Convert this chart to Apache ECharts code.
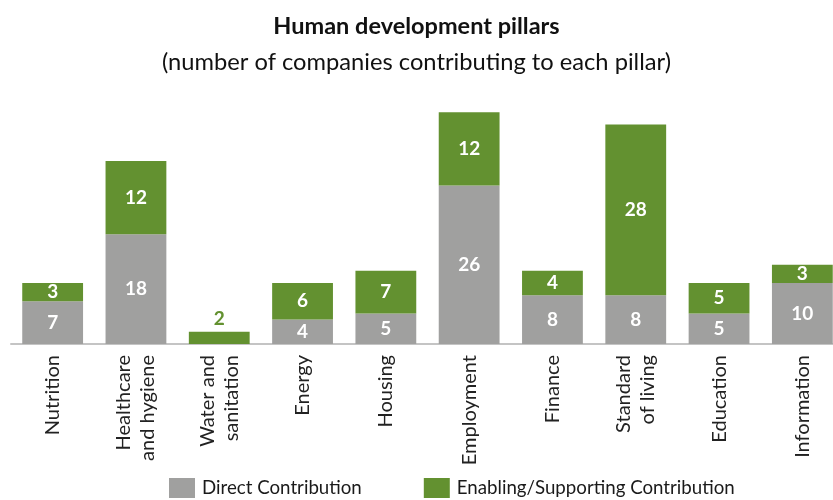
<!DOCTYPE html>
<html>
<head>
<meta charset="utf-8">
<script src="https://cdn.jsdelivr.net/npm/echarts@6/dist/echarts.min.js"></script>
<style>
  html, body { margin: 0; padding: 0; background: #ffffff; }
  #chart { width: 833px; height: 500px; }
</style>
</head>
<body>
<div id="chart"></div>
<script>
// Human development pillars: companies contributing to each pillar
const pillars = [
  'Nutrition', 'Healthcare\nand hygiene', 'Water and\nsanitation', 'Energy', 'Housing',
  'Employment', 'Finance', 'Standard\nof living', 'Education', 'Information'
];
const directContribution = [7, 18, 0, 4, 5, 26, 8, 8, 5, 10];
const enablingContribution = [3, 12, 2, 6, 7, 12, 4, 28, 5, 3];

const GREY = '#a0a09f';
const GREEN = '#639130';
const FONT = 'Lato, "Noto Sans", sans-serif';

// When a pillar has no direct contribution, its enabling label sits above the bar in green.
const enablingData = enablingContribution.map((v, i) => {
  if (directContribution[i] === 0) {
    return { value: v, label: { position: 'top', color: GREEN, distance: 3 } };
  }
  return v;
});

const chart = echarts.init(document.getElementById('chart'), null, { renderer: 'canvas' });
chart.setOption({
  animation: false,
  textStyle: { fontFamily: FONT },
  title: [
    {
      text: 'Human development pillars',
      left: 'center', top: 9,
      textStyle: { fontFamily: FONT, fontSize: 23.5, fontWeight: 'bold', color: '#111111' }
    },
    {
      text: '(number of companies contributing to each pillar)',
      left: 'center', top: 45,
      textStyle: { fontFamily: FONT, fontSize: 23.7, fontWeight: 'normal', color: '#111111' }
    }
  ],
  legend: {
    top: 478,
    left: 169,
    itemWidth: 26,
    itemHeight: 20,
    itemGap: 62,
    padding: 0,
    icon: 'rect',
    textStyle: { fontFamily: FONT, fontSize: 18.7, color: '#1a1a1a', padding: [0, 0, 0, 2] },
    data: ['Direct Contribution', 'Enabling/Supporting Contribution']
  },
  // the plot area runs a little past the right edge of the page
  grid: {
    left: 11, top: 100, width: 833, bottom: 156,
    containLabel: false,
    outerBoundsMode: 'none'
  },
  xAxis: {
    type: 'category',
    data: pillars,
    axisTick: { show: false },
    axisLine: { lineStyle: { color: '#c4c4c4', width: 2 } },
    axisLabel: {
      rotate: 90,
      margin: 11,
      fontFamily: FONT,
      fontSize: 20,
      lineHeight: 24,
      color: '#222222',
      interval: 0
    }
  },
  yAxis: {
    type: 'value',
    min: 0,
    max: 40,
    show: false,
    splitLine: { show: false }
  },
  series: [
    {
      name: 'Direct Contribution',
      type: 'bar',
      stack: 'total',
      barCategoryGap: '27%',
      itemStyle: { color: GREY },
      label: {
        show: true,
        position: 'inside',
        color: '#ffffff',
        fontFamily: FONT,
        fontSize: 19,
        fontWeight: 'bold',
        formatter: p => (p.value ? String(p.value) : '')
      },
      data: directContribution
    },
    {
      name: 'Enabling/Supporting Contribution',
      type: 'bar',
      stack: 'total',
      barCategoryGap: '27%',
      itemStyle: { color: GREEN },
      label: {
        show: true,
        position: 'inside',
        color: '#ffffff',
        fontFamily: FONT,
        fontSize: 19,
        fontWeight: 'bold'
      },
      data: enablingData
    }
  ]
});
</script>
</body>
</html>
